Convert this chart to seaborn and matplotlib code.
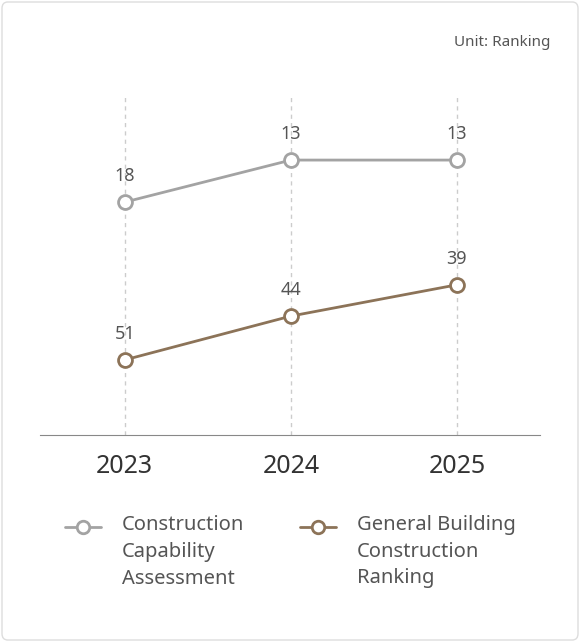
import matplotlib
matplotlib.use("Agg")
import matplotlib.pyplot as plt
import seaborn as sns
from matplotlib.lines import Line2D
from matplotlib.patches import FancyBboxPatch

years = ["2023", "2024", "2025"]
capability = [18, 13, 13]
general = [51, 44, 39]

gray = "#a3a3a3"
brown = "#8c7358"
txt = "#555555"

sns.set_style("white")
plt.rcParams["font.family"] = ["Noto Sans", "DejaVu Sans"]

W, H = 580, 642
fig = plt.figure(figsize=(W / 100, H / 100), dpi=100)
fig.patches.append(FancyBboxPatch((2 / W, 2 / H), 1 - 4 / W, 1 - 4 / H,
                                  boxstyle="round,pad=0,rounding_size=0.01",
                                  transform=fig.transFigure, fill=False,
                                  edgecolor="#dddddd", linewidth=1))

rect = [40 / W, 1 - 435 / H, 500 / W, 340 / H]
ax = fig.add_axes(rect)
ax2 = fig.add_axes(rect, sharex=ax)
ax2.patch.set_visible(False)
x = list(range(len(years)))

for a in (ax, ax2):
    for s in a.spines.values():
        s.set_visible(False)
    a.set_yticks([])
ax.spines["bottom"].set_visible(True)
ax.spines["bottom"].set_color("#888888")

for xi in x:
    ax.axvline(xi, color="#cccccc", linestyle=(0, (3, 3)), linewidth=1, zorder=0)

sns.lineplot(x=x, y=capability, ax=ax, color=gray, linewidth=2, marker="o",
             markersize=10, markerfacecolor="white", markeredgecolor=gray,
             markeredgewidth=2)
sns.lineplot(x=x, y=general, ax=ax2, color=brown, linewidth=2, marker="o",
             markersize=10, markerfacecolor="white", markeredgecolor=brown,
             markeredgewidth=2)
ax.set_ylim(45.7, 5.26)
ax2.set_ylim(63.0, 8.67)
ax.set_xlim(-0.51, 2.5)

for a, vals in ((ax, capability), (ax2, general)):
    for xi, v in zip(x, vals):
        a.annotate(str(v), (xi, v), xytext=(0, 12), textcoords="offset points",
                   ha="center", va="bottom", fontsize=13, color=txt)

ax.set_xticks(x)
ax.set_xticklabels(years, fontsize=18, color="#333333")
ax.tick_params(axis="x", length=0, pad=14)
plt.setp(ax2.get_xticklabels(), visible=False)
ax2.tick_params(axis="x", length=0)

fig.text(550 / W, 1 - 43 / H, "Unit: Ranking", ha="right", va="center",
         fontsize=11, color=txt)

for lx, col, label in ((65, gray, "Construction\nCapability\nAssessment"),
                       (300, brown, "General Building\nConstruction\nRanking")):
    fig.add_artist(Line2D([lx / W, (lx + 36) / W], [1 - 527 / H] * 2, color=col,
                          linewidth=2, transform=fig.transFigure))
    fig.add_artist(Line2D([(lx + 18) / W], [1 - 527 / H], color=col, marker="o",
                          markersize=9, markerfacecolor="white",
                          markeredgewidth=2, transform=fig.transFigure))
    fig.text((lx + 57) / W, 1 - 515 / H, label, ha="left", va="top",
             fontsize=14.5, color=txt, linespacing=1.45)

fig.savefig("out.png", dpi=100)
